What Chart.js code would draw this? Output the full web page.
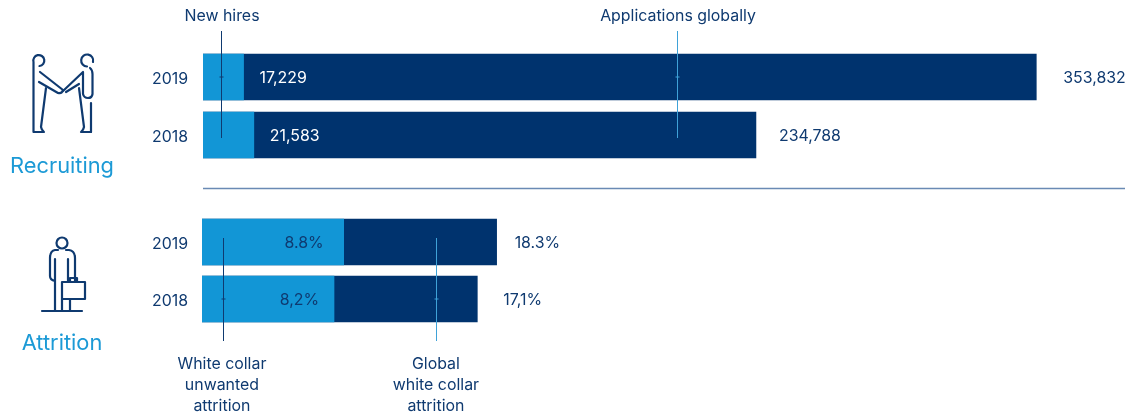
<!DOCTYPE html>
<html><head><meta charset="utf-8">
<script src="https://cdn.jsdelivr.net/npm/chart.js@4/dist/chart.umd.min.js"></script>
<style>
html,body{margin:0;padding:0;background:#fff;width:1141px;height:414px;overflow:hidden}
canvas{position:absolute;left:0}
#c1{top:0}#c2{top:190px}
svg{position:absolute;left:0;top:0}
</style></head><body>
<canvas id="c1" width="1141" height="190"></canvas>
<canvas id="c2" width="1141" height="224"></canvas>
<svg width="1141" height="414" fill="none" stroke="#0f3a70" stroke-width="2.2" stroke-linecap="round" stroke-linejoin="round">
<path d="M33.500 62 a5.500 5.500 0 1 1 6 4 M33.500 62 V132 H44 Q41.500 130 41 127 L46 88"/>
<path d="M40 72 L63 90 Q62 94 58 93 L39 82"/>
<path d="M93 62 a6 6 0 1 0 -6 4.500 M91 132 V103"/>
<path d="M91 132 H81 Q83.500 130 84 127 L79 88"/>
<path d="M63 91 L83 72 V94 Q84 98 88 98 Q92 98 92.500 94 V74 Q92.500 70 90 68"/>
<path d="M66 92 L79 84"/>
<circle cx="62" cy="243" r="5.500"/>
<path d="M58 250 H55 Q50 251 50 258 V276 Q50 280 55 281 M55 259 V311 M68 259 V282 M62 299 V311 M70 299 V311 M66 250 H69 Q75 251 75 258 V282"/>
<path d="M42 311 H82"/>
<rect x="62" y="282" width="23" height="17"/>
<path d="M70 282 V278 H77 V282"/>
</svg>
<script>
const years = ['2019', '2018'];
const newHires = [17229, 21583];
const applications = [353832, 234788];
const newHiresLabels = ['17,229', '21,583'];
const applicationsLabels = ['353,832', '234,788'];
const unwantedAttrition = [8.8, 8.2];
const globalAttrition = [18.3, 17.1];
const unwantedLabels = ['8.8%', '8,2%'];
const globalLabels = ['18.3%', '17,1%'];

const NAVY = '#00336e', BLUE = '#1296d6', TEXT = '#0f3a70', HEAD = '#1c9ad6';
const FONT = 'Inter, "Noto Sans", sans-serif';

function baseOptions(xMax, padL, padT, padB, yLabelPad) {
  return {
    indexAxis: 'y', responsive: false, maintainAspectRatio: false, animation: false,
    layout: { padding: { left: padL, right: 16, top: padT, bottom: padB } },
    plugins: { legend: { display: false }, tooltip: { enabled: false } },
    scales: {
      x: { display: false, min: 0, max: xMax, stacked: false },
      y: {
        stacked: true, border: { display: false }, grid: { display: false, drawTicks: false },
        afterFit(a) { a.width = 60; },
        ticks: { color: TEXT, padding: yLabelPad, labelOffset: 2, font: { family: FONT, size: 15.9 } }
      }
    }
  };
}

function txt(ctx, s, x, y, align, color, size) {
  ctx.save();
  ctx.font = (size || 15.9) + 'px ' + FONT;
  ctx.fillStyle = color || TEXT;
  ctx.textAlign = align || 'left';
  ctx.textBaseline = 'middle';
  ctx.fillText(s, x, y + 1.5);
  ctx.restore();
}
function leader(ctx, x, y0, y1, tickY, color) {
  ctx.save();
  ctx.strokeStyle = color; ctx.lineWidth = 1;
  const px = Math.round(x) + .5;
  ctx.beginPath();
  ctx.moveTo(px, y0); ctx.lineTo(px, y1);
  ctx.moveTo(px - 2, tickY); ctx.lineTo(px + 2, tickY);
  ctx.stroke();
  ctx.restore();
}

const newHiresLeader = 7643, applicationsLeader = 201274;
const unwantedLeader = 1.3, globalLeader = 14.53;

new Chart(document.getElementById('c1'), {
  type: 'bar',
  data: {
    labels: years,
    datasets: [
      { label: 'New hires', data: newHires, backgroundColor: BLUE, barThickness: 46, order: 1 },
      { label: 'Applications globally', data: applications, backgroundColor: NAVY, barThickness: 46, order: 2 }
    ]
  },
  options: baseOptions(391500, 143, 48, 26, 15),
  plugins: [{
    id: 'recruitNotes',
    afterDatasetsDraw(c) {
      const { ctx, scales: { x, y }, chartArea: a } = c;
      const end = [27, 23];
      years.forEach((_, i) => {
        const cy = y.getPixelForValue(i);
        txt(ctx, newHiresLabels[i], x.getPixelForValue(newHires[i]) + 16, cy, 'left', '#ffffff');
        txt(ctx, applicationsLabels[i], x.getPixelForValue(applications[i]) + end[i], cy);
      });
      const c0 = y.getPixelForValue(0);
      leader(ctx, x.getPixelForValue(newHiresLeader), 31, 138, c0, TEXT);
      leader(ctx, x.getPixelForValue(applicationsLeader), 31, 138, c0, '#3fa2d8');
      txt(ctx, 'New hires', x.getPixelForValue(newHiresLeader) + 1, 15, 'center');
      txt(ctx, 'Applications globally', x.getPixelForValue(applicationsLeader) + 1, 15, 'center');
      txt(ctx, 'Recruiting', 62, 165, 'center', HEAD, 21.8);
      ctx.save();
      ctx.strokeStyle = '#6a8ab4'; ctx.lineWidth = 1.5;
      ctx.beginPath(); ctx.moveTo(a.left, 188.5); ctx.lineTo(a.right, 188.5); ctx.stroke();
      ctx.restore();
    }
  }]
});

new Chart(document.getElementById('c2'), {
  type: 'bar',
  data: {
    labels: years,
    datasets: [
      { label: 'White collar unwanted attrition', data: unwantedAttrition, backgroundColor: BLUE, barThickness: 46, order: 1 },
      { label: 'Global white collar attrition', data: globalAttrition, backgroundColor: NAVY, barThickness: 46, order: 2 }
    ]
  },
  options: baseOptions(57.33, 142, 23.5, 86.5, 14),
  plugins: [{
    id: 'attritionNotes',
    afterDatasetsDraw(c) {
      const { ctx, scales: { x, y } } = c;
      const inner = [20, 15], outer = [18, 26];
      years.forEach((_, i) => {
        const cy = y.getPixelForValue(i);
        txt(ctx, unwantedLabels[i], x.getPixelForValue(unwantedAttrition[i]) - inner[i], cy, 'right');
        txt(ctx, globalLabels[i], x.getPixelForValue(globalAttrition[i]) + outer[i], cy);
      });
      const c1 = y.getPixelForValue(1);
      const ux = x.getPixelForValue(unwantedLeader), gx = x.getPixelForValue(globalLeader);
      leader(ctx, ux, 48, 151, c1, TEXT);
      leader(ctx, gx, 48, 151, c1, '#3fa2d8');
      ['White collar', 'unwanted', 'attrition'].forEach((s, i) => txt(ctx, s, ux - 1, 173 + i * 21, 'center'));
      ['Global', 'white collar', 'attrition'].forEach((s, i) => txt(ctx, s, gx, 173 + i * 21, 'center'));
      txt(ctx, 'Attrition', 62, 152, 'center', HEAD, 21.8);
    }
  }]
});
</script>
</body></html>
